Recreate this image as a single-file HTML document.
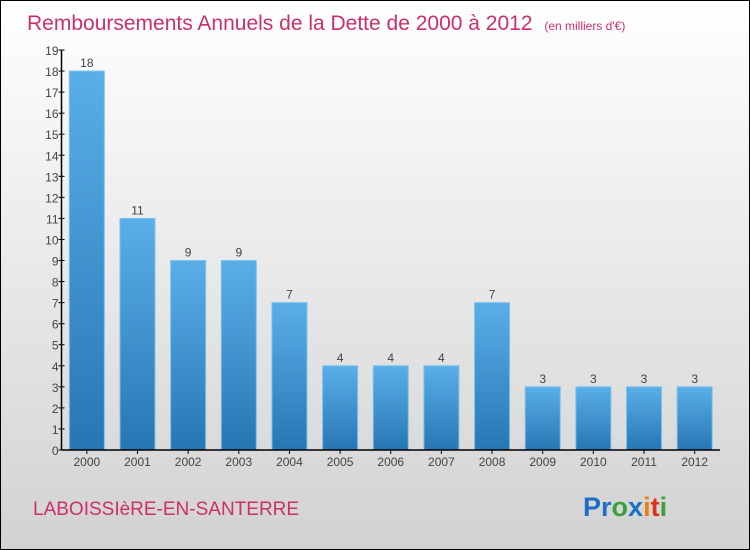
<!DOCTYPE html>
<html><head><meta charset="utf-8"><style>
body{margin:0}
#c{position:relative;width:748px;height:548px;border:1px solid #000;background:linear-gradient(#ffffff,#d2d2d2);font-family:"Liberation Sans",sans-serif;overflow:hidden}
</style></head><body>
<div id="c">
<svg width="748" height="548" xmlns="http://www.w3.org/2000/svg">
<defs><linearGradient id="bg" x1="0" y1="0" x2="0" y2="1"><stop offset="0" stop-color="#5aafe8"/><stop offset="1" stop-color="#2776b4"/></linearGradient></defs>
<text x="26" y="29" font-size="21" fill="#cc2f6a">Remboursements Annuels de la Dette de 2000 à 2012 <tspan font-size="12" dx="6">(en milliers d'€)</tspan></text>
<g id="plot"></g>
<text x="32" y="514" font-size="19" fill="#cc2f6a">LABOISSIèRE-EN-SANTERRE</text>
<text x="582" y="515" font-size="27" font-weight="bold"><tspan fill="#1a6fc6">Pr</tspan><tspan fill="#3aa040">o</tspan><tspan fill="#1a6fc6">x</tspan><tspan fill="#f07f10">i</tspan><tspan fill="#e03020">t</tspan><tspan fill="#3aa040">i</tspan></text>
</svg>
</div>
<script>
const categories=["2000","2001","2002","2003","2004","2005","2006","2007","2008","2009","2010","2011","2012"];
const values=[18,11,9,9,7,4,4,4,7,3,3,3,3];
const yTicks=[0,1,2,3,4,5,6,7,8,9,10,11,12,13,14,15,16,17,18,19];
const NS="http://www.w3.org/2000/svg";
const g=document.getElementById('plot');
const x0=60.5,x1=719,y0=449,yTop=49,yMax=19;
const band=(x1-x0)/categories.length;
const y=v=>y0-v*(y0-yTop)/yMax;
const xc=i=>x0+band*(i+0.5);
function mk(t,a){const e=document.createElementNS(NS,t);for(const k in a)e.setAttribute(k,a[k]);g.appendChild(e);return e;}
values.forEach((v,i)=>{
 const r=mk('rect',{x:xc(i)-17.5,y:y(v),width:35,height:y0-y(v),fill:'url(#bg)',stroke:'#7cc0ee','stroke-width':1});
 
 
 const t=mk('text',{x:xc(i),y:y(v)-4,'font-size':12,fill:'#444','text-anchor':'middle'});
 t.textContent=v;
 
 
 const l=mk('text',{x:xc(i),y:y0+16,'font-size':12,fill:'#444','text-anchor':'middle'});
 l.textContent=categories[i];
 
 
 const tk=mk('line',{x1:xc(i),x2:xc(i),y1:y0,y2:y0+4,stroke:'#000'});
 
 
});
yTicks.forEach(v=>{
 const t=mk('text',{x:x0-3,y:y(v)+5,'font-size':12,fill:'#444','text-anchor':'end'});
 t.textContent=v;
 
 
 const m=mk('line',{x1:x0-3,x2:x0+3,y1:y(v),y2:y(v),stroke:'#000'});
 
 
});
const ya=mk('line',{x1:x0,x2:x0,y1:yTop,y2:y0,stroke:'#000','stroke-width':1.5});


const xa=mk('line',{x1:x0,x2:x1,y1:y0,y2:y0,stroke:'#000','stroke-width':1.5});


</script>
</body></html>
